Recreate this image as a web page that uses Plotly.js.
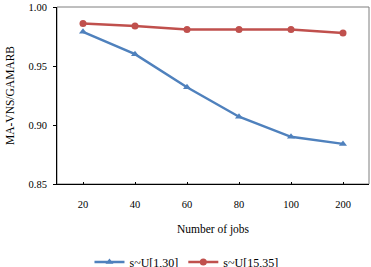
<!DOCTYPE html>
<html>
<head>
<meta charset="utf-8">
<script src="https://cdn.plot.ly/plotly-3.0.1.min.js"></script>
<style>
  html, body { margin: 0; padding: 0; background: #fff; overflow: hidden; }
  #frame { width: 371px; height: 267px; overflow: hidden; }
  #chart { width: 371px; height: 282px; }
</style>
</head>
<body>
<div id="frame"><div id="chart"></div></div>
<script>
// Number of jobs (category axis)
const jobs = ['20', '40', '60', '80', '100', '200'];
// MA-VNS / GAMARB ratio per setup-time distribution
const ratioU1to30 = [0.979, 0.960, 0.932, 0.907, 0.890, 0.884];
const ratioU15to35 = [0.986, 0.984, 0.981, 0.981, 0.981, 0.978];
const seriesNames = ['s~U[1,30]', 's~U[15,35]'];
const yTicks = [0.85, 0.90, 0.95, 1.00];

const serif = 'Times New Roman, Liberation Serif, DejaVu Serif, serif';

const traces = [
  {
    x: jobs, y: ratioU1to30, name: seriesNames[0],
    type: 'scatter', mode: 'lines+markers',
    line: { color: '#4F81BD', width: 2.5 },
    marker: { symbol: 'triangle-up', size: 7, color: '#4F81BD' }
  },
  {
    x: jobs, y: ratioU15to35, name: seriesNames[1],
    type: 'scatter', mode: 'lines+markers',
    line: { color: '#C0504D', width: 2.5 },
    marker: { symbol: 'circle', size: 7, color: '#C0504D' }
  }
];

const layout = {
  width: 371, height: 282,
  margin: { l: 57, r: 2, t: 7, b: 98 },
  paper_bgcolor: '#fff', plot_bgcolor: '#fff',
  font: { family: serif, size: 10.5, color: '#000' },
  showlegend: true,
  legend: {
    orientation: 'h', x: 0.415, xanchor: 'center',
    y: -0.440, yanchor: 'middle',
    font: { family: serif, size: 12, color: '#000' },
    itemwidth: 30, tracegroupgap: 0
  },
  xaxis: {
    type: 'category',
    range: [-0.5, 5.5],
    showgrid: false, zeroline: false,
    showline: true, linecolor: '#000', linewidth: 1,
    ticks: 'inside', ticklen: 2, tickcolor: '#000',
    ticklabelstandoff: 10,
    tickfont: { family: serif, size: 10.5 },
    title: { text: 'Number of jobs', font: { family: serif, size: 11.5 }, standoff: 16 },
    fixedrange: true
  },
  yaxis: {
    range: [0.85, 1.00],
    tickvals: yTicks,
    tickformat: '.2f',
    showgrid: false, zeroline: false,
    showline: true, linecolor: '#000', linewidth: 1,
    ticks: 'outside', ticklen: 3, tickcolor: '#000',
    ticklabelstandoff: 4,
    tickfont: { family: serif, size: 10.5 },
    title: { text: 'MA-VNS/GAMARB', font: { family: serif, size: 11.5 }, standoff: 11 },
    fixedrange: true
  },
  shapes: [
    {
      type: 'rect', xref: 'paper', yref: 'paper',
      x0: 0, x1: 1, y0: 0, y1: 1,
      line: { color: '#7f7f7f', width: 1 }, layer: 'below'
    }
  ]
};

Plotly.newPlot('chart', traces, layout, { displayModeBar: false, staticPlot: true });
</script>
</body>
</html>
